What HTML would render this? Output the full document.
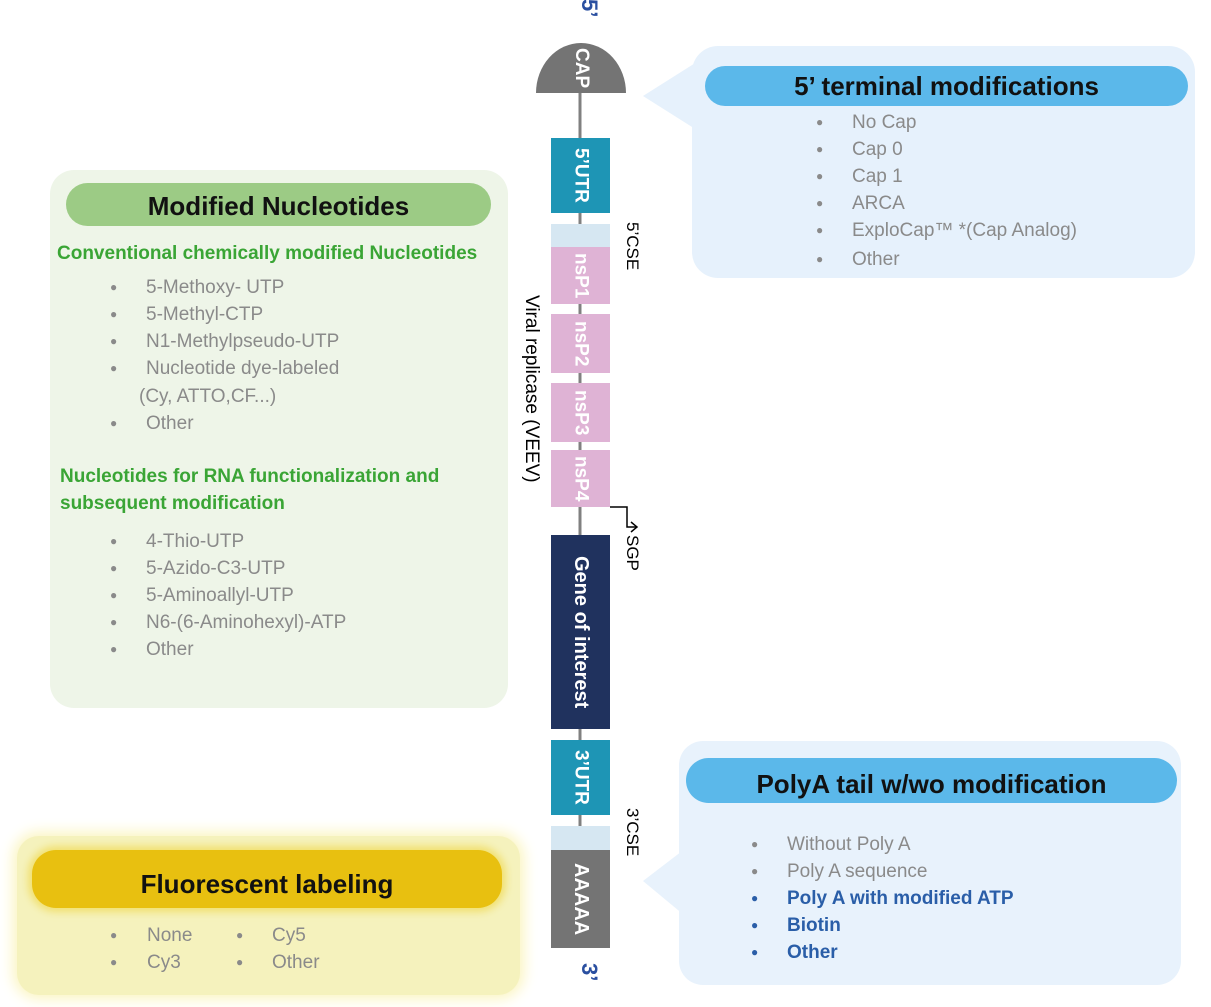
<!DOCTYPE html>
<html><head><meta charset="utf-8">
<style>
body{margin:0;width:1211px;height:1007px;background:#fff;position:relative;overflow:hidden;font-family:"Liberation Sans",sans-serif}
div{position:absolute;box-sizing:border-box}
.t{white-space:nowrap;font-size:19px;line-height:22px;color:#8a8a8a;transform:translateY(-11px)}
.b{font-size:12px;color:#8a8a8a;transform:translateY(-8px)}
.pill{border-radius:24px;text-align:center;font-weight:bold;font-size:26px;color:#111}
.v{writing-mode:vertical-rl;white-space:nowrap;display:flex;align-items:center;justify-content:center;color:#fff;font-weight:bold;font-size:19px}
.g{color:#3aa535;font-weight:bold;font-size:19px}
.bl{color:#2a5ea8;font-weight:bold}
</style></head><body>

<svg style="position:absolute;left:0;top:0" width="1211" height="1007">
<polygon points="643,96 700,60 700,132" fill="#e6f1fc"/>
<polygon points="643,881 690,845 690,920" fill="#e8f2fc"/>
<line x1="580" y1="90" x2="580" y2="948" stroke="#808080" stroke-width="3"/>
<path d="M536,93 A45,50 0 0 1 626,93 Z" fill="#747474"/>
<polyline points="610,507 627,507 627,527 636,527" fill="none" stroke="#000" stroke-width="1.5"/>
<polyline points="631,522 637,527 631,532" fill="none" stroke="#000" stroke-width="1.5"/>
</svg>

<!-- 5' terminal -->
<div style="left:692px;top:46px;width:503px;height:232px;background:#e6f1fc;border-radius:26px"></div>
<div class="pill" style="left:705px;top:66px;width:483px;height:40px;line-height:40px;background:#5bb8ea">5’ terminal modifications</div>
<div class="b" style="left:816px;top:123px">●</div><div class="t" style="left:852px;top:123px">No Cap</div>
<div class="b" style="left:816px;top:150px">●</div><div class="t" style="left:852px;top:150px">Cap 0</div>
<div class="b" style="left:816px;top:177px">●</div><div class="t" style="left:852px;top:177px">Cap 1</div>
<div class="b" style="left:816px;top:204px">●</div><div class="t" style="left:852px;top:204px">ARCA</div>
<div class="b" style="left:816px;top:231px">●</div><div class="t" style="left:852px;top:231px">ExploCap™ *(Cap Analog)</div>
<div class="b" style="left:816px;top:260px">●</div><div class="t" style="left:852px;top:260px">Other</div>

<!-- Modified nucleotides -->
<div style="left:50px;top:170px;width:458px;height:538px;background:#eef5e8;border-radius:24px"></div>
<div class="pill" style="left:66px;top:183px;width:425px;height:43px;line-height:46px;background:#9ccb85">Modified Nucleotides</div>
<div class="t g" style="left:57px;top:254px">Conventional chemically modified Nucleotides</div>
<div class="b" style="left:110px;top:288px">●</div><div class="t" style="left:146px;top:288px">5-Methoxy- UTP</div>
<div class="b" style="left:110px;top:315px">●</div><div class="t" style="left:146px;top:315px">5-Methyl-CTP</div>
<div class="b" style="left:110px;top:342px">●</div><div class="t" style="left:146px;top:342px">N1-Methylpseudo-UTP</div>
<div class="b" style="left:110px;top:369px">●</div><div class="t" style="left:146px;top:369px">Nucleotide dye-labeled</div>
<div class="t" style="left:139px;top:397px">(Cy, ATTO,CF...)</div>
<div class="b" style="left:110px;top:424px">●</div><div class="t" style="left:146px;top:424px">Other</div>
<div class="t g" style="left:60px;top:477px">Nucleotides for RNA functionalization and</div>
<div class="t g" style="left:60px;top:504px">subsequent modification</div>
<div class="b" style="left:110px;top:542px">●</div><div class="t" style="left:146px;top:542px">4-Thio-UTP</div>
<div class="b" style="left:110px;top:569px">●</div><div class="t" style="left:146px;top:569px">5-Azido-C3-UTP</div>
<div class="b" style="left:110px;top:596px">●</div><div class="t" style="left:146px;top:596px">5-Aminoallyl-UTP</div>
<div class="b" style="left:110px;top:623px">●</div><div class="t" style="left:146px;top:623px">N6-(6-Aminohexyl)-ATP</div>
<div class="b" style="left:110px;top:650px">●</div><div class="t" style="left:146px;top:650px">Other</div>

<!-- PolyA -->
<div style="left:679px;top:741px;width:502px;height:244px;background:#e8f2fc;border-radius:24px"></div>
<div class="pill" style="left:686px;top:758px;width:491px;height:45px;line-height:53px;background:#5bb8ea">PolyA tail w/wo modification</div>
<div class="b" style="left:751px;top:845px">●</div><div class="t" style="left:787px;top:845px">Without Poly A</div>
<div class="b" style="left:751px;top:872px">●</div><div class="t" style="left:787px;top:872px">Poly A sequence</div>
<div class="b bl" style="left:751px;top:899px">●</div><div class="t bl" style="left:787px;top:899px">Poly A with modified ATP</div>
<div class="b bl" style="left:751px;top:926px">●</div><div class="t bl" style="left:787px;top:926px">Biotin</div>
<div class="b bl" style="left:751px;top:953px">●</div><div class="t bl" style="left:787px;top:953px">Other</div>

<!-- Fluorescent -->
<div style="left:17px;top:836px;width:503px;height:159px;background:#f5f2bd;border-radius:22px;box-shadow:0 0 14px 4px #fbf5c0"></div>
<div class="pill" style="left:32px;top:850px;width:470px;height:58px;line-height:68px;background:#e8c010;box-shadow:0 0 8px 4px #f1e070">Fluorescent labeling</div>
<div class="b" style="left:110px;top:936px">●</div><div class="t" style="left:147px;top:936px">None</div>
<div class="b" style="left:236px;top:936px">●</div><div class="t" style="left:272px;top:936px">Cy5</div>
<div class="b" style="left:110px;top:963px">●</div><div class="t" style="left:147px;top:963px">Cy3</div>
<div class="b" style="left:236px;top:963px">●</div><div class="t" style="left:272px;top:963px">Other</div>

<!-- construct -->
<div class="v" style="left:560px;top:44px;width:42px;height:48px;font-size:19px">CAP</div>
<div class="v" style="left:551px;top:138px;width:59px;height:75px;background:#1e95b5">5’UTR</div>
<div style="left:551px;top:224px;width:59px;height:23px;background:#d6e7f2"></div>
<div class="v" style="left:551px;top:247px;width:59px;height:57px;background:#dfb3d5">nsP1</div>
<div class="v" style="left:551px;top:314px;width:59px;height:59px;background:#dfb3d5">nsP2</div>
<div class="v" style="left:551px;top:383px;width:59px;height:59px;background:#dfb3d5">nsP3</div>
<div class="v" style="left:551px;top:450px;width:59px;height:57px;background:#dfb3d5">nsP4</div>
<div class="v" style="left:551px;top:535px;width:59px;height:194px;background:#20325e;font-size:20px">Gene of interest</div>
<div class="v" style="left:551px;top:740px;width:59px;height:75px;background:#1e95b5">3’UTR</div>
<div style="left:551px;top:826px;width:59px;height:24px;background:#d6e7f2"></div>
<div class="v" style="left:551px;top:850px;width:59px;height:98px;background:#747474;font-size:20px">AAAAA</div>

<div class="v" style="left:574px;top:0px;width:30px;height:16px;color:#2a4fa0;font-size:22px">5’</div>
<div class="v" style="left:574px;top:958px;width:30px;height:28px;color:#2a4fa0;font-size:22px">3’</div>
<div class="v" style="left:620px;top:220px;width:24px;height:52px;color:#000;font-weight:normal;font-size:17px">5’CSE</div>
<div class="v" style="left:620px;top:805px;width:24px;height:54px;color:#000;font-weight:normal;font-size:17px">3’CSE</div>
<div class="v" style="left:620px;top:532px;width:24px;height:42px;color:#000;font-weight:normal;font-size:17px">SGP</div>
<div class="v" style="left:519px;top:286px;width:24px;height:206px;color:#000;font-weight:normal;font-size:19px">Viral replicase (VEEV)</div>
</body></html>
